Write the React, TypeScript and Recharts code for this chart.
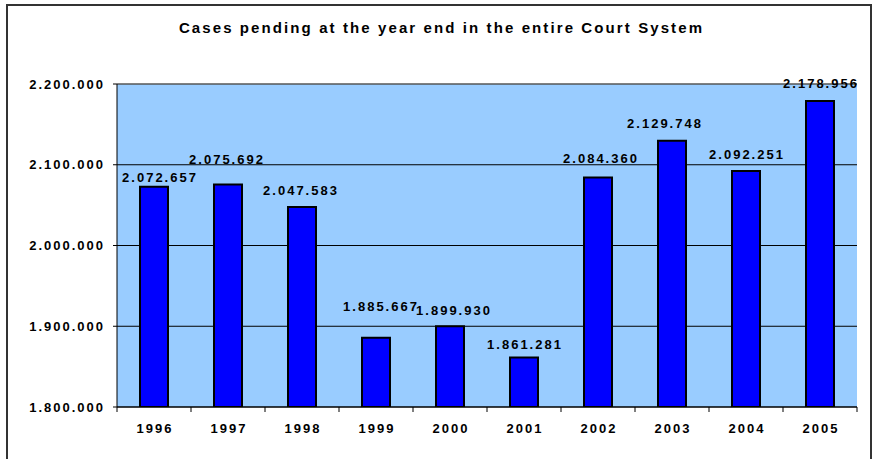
import {
  BarChart,
  Bar,
  XAxis,
  YAxis,
  CartesianGrid,
  ReferenceLine,
  LabelList
} from "recharts";

const years = ["1996", "1997", "1998", "1999", "2000", "2001", "2002", "2003", "2004", "2005"];
const pendingCases = [2072657, 2075692, 2047583, 1885667, 1899930, 1861281, 2084360, 2129748, 2092251, 2178956];
const yTicks = [1800000, 1900000, 2000000, 2100000, 2200000];

// label nudges (px) so the labels sit where the original placed them
const labelShiftX = [5, -2, -2, 4, 3, 0, 2, -8, 0, 0];
const labelShiftY = [7, -8, 0, -15, 1, 3, -2, -1, 0, -1];

const W = 877;
const H = 459;
const MARGIN = { top: 84, right: 20, bottom: 22, left: 0 };
const YAXIS_W = 117;
const XAXIS_H = 30;
const PLOT_BOTTOM = H - MARGIN.bottom - XAXIS_H;
const HALF_BAND = (W - MARGIN.left - MARGIN.right - YAXIS_W) / years.length / 2;

const FONT = "Arial, 'Liberation Sans', sans-serif";

const fmt = (v: number) => String(v).replace(/\B(?=(\d{3})+(?!\d))/g, ".");

const data = years.map((year, i) => ({ year, cases: pendingCases[i] }));

function YearTick(props: any) {
  const { x, payload, index } = props;
  return (
    <g>
      <line x1={x - HALF_BAND} x2={x - HALF_BAND} y1={PLOT_BOTTOM} y2={PLOT_BOTTOM + 5} stroke="#000" />
      {index === years.length - 1 && (
        <line x1={x + HALF_BAND} x2={x + HALF_BAND} y1={PLOT_BOTTOM} y2={PLOT_BOTTOM + 5} stroke="#000" />
      )}
      <text x={x + 1} y={PLOT_BOTTOM + 26} textAnchor="middle" fontSize={13} fontWeight="bold" fill="#000">
        {payload.value}
      </text>
    </g>
  );
}

function ValueLabel(props: any) {
  const { x, y, width, value, index } = props;
  return (
    <text
      x={x + width / 2 + 1 + labelShiftX[index]}
      y={y - 12 + labelShiftY[index]}
      textAnchor="middle"
      fontSize={13}
      fontWeight="bold"
      fill="#000"
    >
      {fmt(value)}
    </text>
  );
}

export default function App() {
  return (
    <div
      style={{
        position: "absolute",
        left: 0,
        top: 0,
        width: W,
        height: H,
        background: "#fff",
        fontFamily: FONT,
        fontWeight: "bold",
        letterSpacing: "2px",
        overflow: "hidden"
      }}
    >
      <div
        style={{
          position: "absolute",
          left: 6,
          top: 4,
          width: 866,
          height: 470,
          boxSizing: "border-box",
          border: "2px solid #333"
        }}
      />
      <div
        style={{
          position: "absolute",
          left: 3,
          top: 19,
          width: W,
          textAlign: "center",
          fontSize: 15,
          lineHeight: "18px",
          letterSpacing: "2.1px"
        }}
      >
        Cases pending at the year end in the entire Court System
      </div>
      <div style={{ position: "absolute", left: 0, top: 0 }}>
        <BarChart width={W} height={H} data={data} margin={MARGIN}>
          <CartesianGrid yAxisId="left" vertical={false} fill="#99CCFF" fillOpacity={1} stroke="#000" />
          <XAxis
            dataKey="year"
            height={XAXIS_H}
            axisLine={{ stroke: "#000" }}
            tickLine={false}
            tick={<YearTick />}
            interval={0}
          />
          <YAxis
            yAxisId="left"
            width={YAXIS_W}
            domain={[1800000, 2200000]}
            ticks={yTicks}
            tickFormatter={fmt}
            tickSize={4}
            tickMargin={8}
            axisLine={{ stroke: "#000" }}
            tickLine={{ stroke: "#000" }}
            tick={{ fontSize: 13, fontWeight: "bold", fill: "#000" }}
            allowDataOverflow
          />
          <YAxis
            yAxisId="right"
            orientation="right"
            width={0}
            tick={false}
            tickLine={false}
            axisLine={{ stroke: "#808080" }}
          />
          <ReferenceLine yAxisId="left" y={2200000} stroke="#808080" />
          <Bar
            yAxisId="left"
            dataKey="cases"
            fill="#0000FF"
            stroke="#000"
            strokeWidth={2}
            barSize={28}
            isAnimationActive={false}
          >
            <LabelList dataKey="cases" content={<ValueLabel />} />
          </Bar>
        </BarChart>
      </div>
    </div>
  );
}
